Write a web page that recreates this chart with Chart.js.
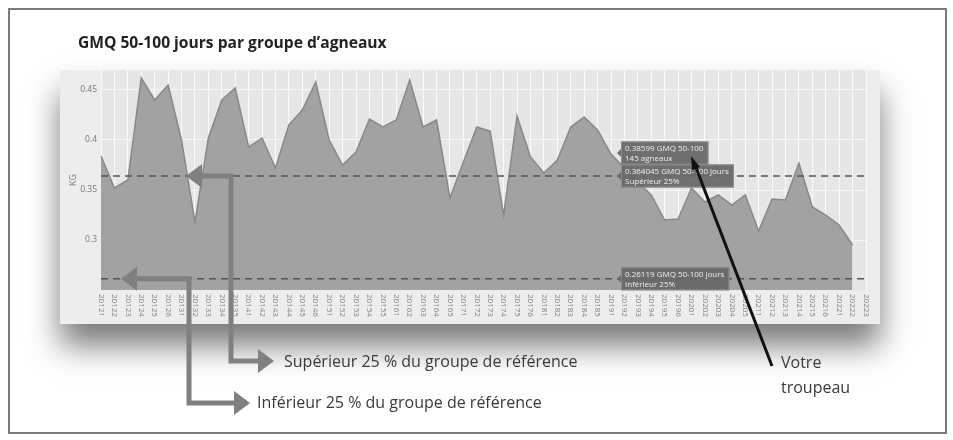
<!DOCTYPE html>
<html lang="fr">
<head>
<meta charset="utf-8">
<script src="https://cdn.jsdelivr.net/npm/chart.js@4.4.1/dist/chart.umd.min.js"></script>
<style>
  html, body { margin: 0; padding: 0; background: #fff; }
  body { width: 953px; height: 440px; position: relative; overflow: hidden; font-family: "Open Sans", sans-serif; }
  #frame { position: absolute; left: 8px; top: 8px; width: 935px; height: 422px; border: 2px solid #7a7a7a; }
  #card { position: absolute; left: 60px; top: 70px; width: 820px; height: 254px; background: #ededed;
          box-shadow: 0 22px 30px rgba(0, 0, 0, 0.52); }
  #chart { position: absolute; left: 0; top: 0; }
  .txt { position: absolute; color: #3a3a3a; font-size: 16px; white-space: nowrap; line-height: 1; }
  #title { left: 78px; top: 35px; font-weight: 700; font-size: 15.6px; color: #222; }
</style>
</head>
<body>
<div id="frame"></div>
<div id="card"></div>
<canvas id="chart" width="953" height="440"></canvas>
<div class="txt" id="title">GMQ 50-100 jours par groupe d’agneaux</div>
<div class="txt" style="left:284px; top:353px;">Supérieur 25 % du groupe de référence</div>
<div class="txt" style="left:257px; top:394px;">Inférieur 25 % du groupe de référence</div>
<div class="txt" style="left:781px; top:354px;">Votre</div>
<div class="txt" style="left:781px; top:379px;">troupeau</div>
<script>
// groupes d'agneaux (année + période)
const categories = [
  '20121', '20122', '20123', '20124', '20125', '20126',
  '20131', '20132', '20133', '20134', '20135',
  '20141', '20142', '20143', '20144', '20145', '20146',
  '20151', '20152', '20153', '20154', '20155',
  '20161', '20162', '20163', '20164', '20165',
  '20171', '20172', '20173', '20174', '20175', '20176',
  '20181', '20182', '20183', '20184', '20185',
  '20191', '20192', '20193', '20194', '20195', '20196',
  '20201', '20202', '20203', '20204', '20205',
  '20211', '20212', '20213', '20214', '20215', '20216',
  '20221', '20222', '20223'
]

// GMQ 50-100 jours du troupeau (kg/jour)
const gmqTroupeau = [
  0.384, 0.352, 0.360, 0.462, 0.440, 0.455,
  0.400, 0.318, 0.402, 0.440, 0.452,
  0.393, 0.402, 0.372, 0.415, 0.430, 0.458,
  0.400, 0.375, 0.388, 0.421, 0.413,
  0.420, 0.460, 0.413, 0.420, 0.342,
  0.378, 0.413, 0.409, 0.325, 0.424, 0.383,
  0.367, 0.380, 0.413, 0.423, 0.410,
  0.38599, 0.372, 0.358, 0.345, 0.320, 0.321,
  0.352, 0.338, 0.345, 0.335, 0.345,
  0.309, 0.341, 0.340, 0.377, 0.333, 0.325,
  0.315, 0.295, null
]

const yTicks = [0.3, 0.35, 0.4, 0.45]

// seuils du groupe de référence
const superieur25 = 0.364045
const inferieur25 = 0.26119

// groupe survolé (infobulles)
const groupeSurvole = '20191'
const nbAgneaux = 145

const idx = categories.indexOf(groupeSurvole)

function arrowHead(ctx, x, y, dir, size) {
  // dir: -1 vers la gauche, 1 vers la droite
  ctx.beginPath()
  ctx.moveTo(x, y)
  ctx.lineTo(x - dir * size, y - size * 0.75)
  ctx.lineTo(x - dir * size, y + size * 0.75)
  ctx.closePath()
  ctx.fill()
}

function drawTip(ctx, px, py, lines) {
  ctx.save()
  ctx.font = '8px "Open Sans"'
  const w = Math.max(...lines.map(l => ctx.measureText(l).width)) + 9
  const h = 23
  const left = px + 10
  const top = py - h / 2
  ctx.fillStyle = 'rgba(104,104,104,0.95)'
  ctx.fillRect(left, top, w, h)
  ctx.beginPath()
  ctx.moveTo(left, py - 4)
  ctx.lineTo(left - 4, py)
  ctx.lineTo(left, py + 4)
  ctx.closePath()
  ctx.fill()
  ctx.strokeStyle = '#8c8c8c'
  ctx.lineWidth = 1
  ctx.strokeRect(left + 0.5, top + 0.5, w - 1, h - 1)
  ctx.fillStyle = '#efefef'
  ctx.textBaseline = 'middle'
  ctx.fillText(lines[0], left + 4, top + 7)
  ctx.fillText(lines[1], left + 4, top + 17)
  ctx.restore()
}

const plotBg = {
  id: 'plotBg',
  beforeDraw(chart) {
    const { ctx, chartArea: a } = chart
    ctx.save()
    ctx.fillStyle = '#e6e6e6'
    ctx.fillRect(a.left, a.top, a.right - a.left, a.bottom - a.top)
    ctx.restore()
  }
}

const extras = {
  id: 'extras',
  afterDatasetsDraw(chart) {
    const { ctx, chartArea: a, scales: { x, y } } = chart

    // libellés de l'axe x, tournés de 90°
    ctx.save()
    ctx.font = '8px "Open Sans"'
    ctx.fillStyle = '#808080'
    ctx.textAlign = 'left'
    ctx.textBaseline = 'middle'
    categories.forEach((c, i) => {
      ctx.save()
      ctx.translate(x.getPixelForValue(i), a.bottom + 4)
      ctx.rotate(Math.PI / 2)
      ctx.fillText(c, 0, 0)
      ctx.restore()
    })
    ctx.restore()

    // lignes de seuil
    const supY = y.getPixelForValue(superieur25)
    const infY = y.getPixelForValue(inferieur25)
    ctx.save()
    ctx.strokeStyle = '#555'
    ctx.lineWidth = 1.5
    ctx.setLineDash([7, 5])
    ;[supY, infY].forEach(py => {
      ctx.beginPath()
      ctx.moveTo(a.left, py)
      ctx.lineTo(a.right, py)
      ctx.stroke()
    })
    ctx.restore()

    // infobulles
    const px = x.getPixelForValue(idx)
    drawTip(ctx, px, y.getPixelForValue(gmqTroupeau[idx]) - 1,
      [gmqTroupeau[idx] + ' GMQ 50-100', nbAgneaux + ' agneaux'])
    drawTip(ctx, px, supY, [superieur25 + ' GMQ 50-100 jours', 'Supérieur 25%'])
    drawTip(ctx, px, infY, [inferieur25 + ' GMQ 50-100 jours', 'Inférieur 25%'])
  },
  afterDraw(chart) {
    const { ctx, scales: { y } } = chart
    const supY = y.getPixelForValue(superieur25)
    const infY = y.getPixelForValue(inferieur25)

    // flèches grises
    ctx.save()
    ctx.strokeStyle = '#808080'
    ctx.fillStyle = '#808080'
    ctx.lineWidth = 5
    ctx.lineJoin = 'miter'
    ctx.beginPath()
    ctx.moveTo(200, supY)
    ctx.lineTo(231, supY)
    ctx.lineTo(231, 361)
    ctx.lineTo(260, 361)
    ctx.stroke()
    arrowHead(ctx, 186, supY, -1, 16)
    arrowHead(ctx, 274, 361, 1, 16)

    ctx.beginPath()
    ctx.moveTo(136, infY)
    ctx.lineTo(189, infY)
    ctx.lineTo(189, 403)
    ctx.lineTo(236, 403)
    ctx.stroke()
    arrowHead(ctx, 121, infY, -1, 16)
    arrowHead(ctx, 250, 403, 1, 16)
    ctx.restore()

    // trait noir « Votre troupeau »
    ctx.save()
    ctx.strokeStyle = '#111'
    ctx.fillStyle = '#111'
    ctx.lineWidth = 3
    ctx.beginPath()
    ctx.moveTo(695, 165)
    ctx.lineTo(772, 366)
    ctx.stroke()
    ctx.beginPath()
    ctx.moveTo(691, 156)
    ctx.lineTo(700, 167)
    ctx.lineTo(692, 170)
    ctx.closePath()
    ctx.fill()
    ctx.restore()
  }
}

new Chart(document.getElementById('chart'), {
  type: 'line',
  data: {
    labels: categories,
    datasets: [{
      data: gmqTroupeau,
      fill: 'start',
      backgroundColor: '#a2a2a2',
      borderColor: '#888',
      borderWidth: 1.5,
      pointRadius: 0,
      tension: 0
    }]
  },
  options: {
    responsive: false,
    animation: false,
    devicePixelRatio: 1,
    layout: { padding: { left: 62, right: 87, top: 70, bottom: 120 } },
    plugins: { legend: { display: false }, tooltip: { enabled: false } },
    scales: {
      x: {
        ticks: { display: false },
        grid: { color: '#fafafa', drawTicks: false },
        border: { display: false },
        afterFit: s => { s.height = 30 }
      },
      y: {
        min: 0.25,
        max: 0.47,
        afterBuildTicks: s => { s.ticks = yTicks.map(v => ({ value: v })) },
        ticks: { font: { size: 8.5, family: 'Open Sans' }, color: '#777', padding: 4, callback: v => String(v) },
        grid: { color: '#f6f6f6', drawTicks: false },
        border: { display: false },
        title: { display: true, text: 'KG', font: { size: 9, family: 'Open Sans' }, color: '#777', padding: { top: 6, bottom: 0 } },
        afterFit: s => { s.width = 39 }
      }
    }
  },
  plugins: [plotBg, extras]
})
</script>
</body>
</html>
